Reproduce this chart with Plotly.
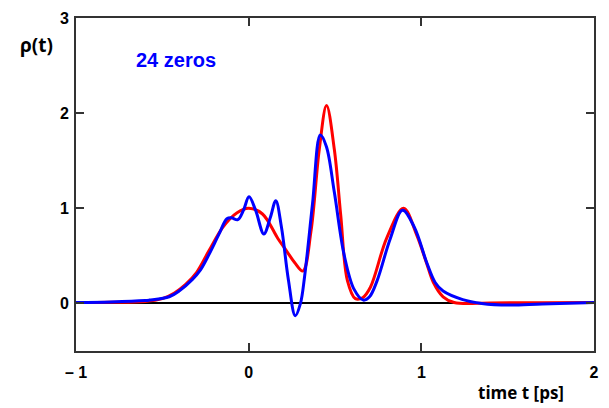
import plotly.graph_objects as go

# Red curve (reference profile)
t_red = [-1.0, -0.8, -0.6, -0.5, -0.43, -0.365, -0.3, -0.231, -0.15, -0.069, 0.0, 0.08, 0.17,
         0.22, 0.266, 0.314, 0.361, 0.409, 0.451, 0.496, 0.533, 0.572, 0.618, 0.66, 0.705, 0.80,
         0.897, 0.973, 1.031, 1.07, 1.126, 1.19, 1.4, 1.7, 2.0]
rho_red = [0.01, 0.012, 0.02, 0.05, 0.11, 0.2, 0.33, 0.55, 0.80, 0.95, 1.0, 0.94, 0.68,
           0.55, 0.43, 0.34, 0.76, 1.62, 2.08, 1.62, 0.93, 0.24, 0.05, 0.06, 0.17, 0.69,
           1.0, 0.72, 0.42, 0.22, 0.07, 0.01, 0.005, 0.008, 0.01]

# Blue curve (24 zeros reconstruction)
t_blue = [-1.0, -0.8, -0.6, -0.575, -0.46, -0.403, -0.327, -0.28, -0.231, -0.174, -0.126,
          -0.1, -0.063, -0.03, 0.002, 0.04, 0.088, 0.125, 0.157, 0.19, 0.23, 0.27, 0.30,
          0.323, 0.37, 0.415, 0.45, 0.496, 0.553, 0.61, 0.664, 0.70, 0.744, 0.82, 0.891,
          0.96, 1.031, 1.08, 1.126, 1.24, 1.35, 1.51, 1.7, 2.0]
rho_blue = [0.01, 0.015, 0.03, 0.035, 0.07, 0.13, 0.25, 0.35, 0.51, 0.72, 0.89,
            0.90, 0.88, 0.98, 1.12, 0.98, 0.73, 0.9, 1.08, 0.8, 0.25, -0.13, 0.0,
            0.27, 1.05, 1.77, 1.65, 1.17, 0.51, 0.15, 0.035, 0.07, 0.24, 0.68, 0.98,
            0.8, 0.43, 0.22, 0.13, 0.04, 0.0, -0.017, -0.005, 0.01]

x_ticks = [-1, 0, 1, 2]
x_ticktext = ["\u2013 1", "0", "1", "2"]
y_ticks = [0, 1, 2, 3]
y_ticktext = ["0", "1", "2", "3"]

fig = go.Figure()
fig.add_trace(go.Scatter(x=t_red, y=rho_red, mode="lines",
                         line=dict(color="#ff0000", width=3, shape="spline", smoothing=1.0)))
fig.add_trace(go.Scatter(x=t_blue, y=rho_blue, mode="lines",
                         line=dict(color="#0000ff", width=3, shape="spline", smoothing=1.0)))

tickfont = dict(family="Liberation Sans, Arial, sans-serif", size=16, color="black", weight="bold")
frame = "#333333"

fig.update_layout(
    width=609, height=408,
    margin=dict(l=76, r=10, t=14, b=57),
    paper_bgcolor="white", plot_bgcolor="white",
    showlegend=False,
    xaxis=dict(range=[-1, 2], tickvals=x_ticks, ticktext=x_ticktext,
               ticks="inside", ticklen=8, tickwidth=1.5, tickcolor=frame,
               showline=True, linecolor=frame, linewidth=2, mirror="ticks",
               showgrid=False, zeroline=False, tickfont=tickfont,
               ticklabelstandoff=6),
    yaxis=dict(range=[-0.5, 3], tickvals=y_ticks, ticktext=y_ticktext,
               ticks="inside", ticklen=8, tickwidth=1.5, tickcolor=frame,
               showline=True, linecolor=frame, linewidth=2, mirror="ticks",
               showgrid=False, zeroline=True, zerolinecolor="black", zerolinewidth=1.5,
               tickfont=tickfont, ticklabelstandoff=2),
    annotations=[
        dict(text="24 zeros", x=-0.42, y=2.56, xref="x", yref="y", showarrow=False,
             xanchor="center", yanchor="middle",
             font=dict(family="Liberation Sans, Arial, sans-serif", size=20, color="#0000ff", weight="bold")),
        dict(text="\u03c1(t)", x=-0.0755, y=2.72, xref="paper", yref="y", showarrow=False,
             xanchor="center", yanchor="middle",
             font=dict(family="Open Sans, sans-serif", size=19, color="black", weight="bold")),
        dict(text="time t [ps]", x=0.946, y=-0.125, xref="paper", yref="paper", showarrow=False,
             xanchor="right", yanchor="middle",
             font=dict(family="Open Sans, sans-serif", size=17, color="black", weight="bold")),
    ],
)

fig.write_html("out.html")
